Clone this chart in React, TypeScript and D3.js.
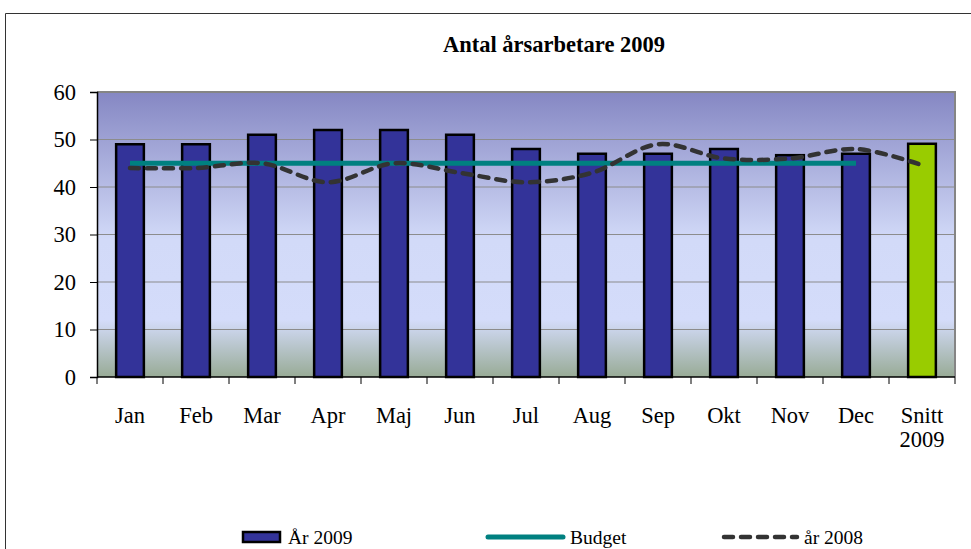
import { useRef, useEffect } from "react";
import * as d3 from "d3";

const categories = ["Jan", "Feb", "Mar", "Apr", "Maj", "Jun", "Jul", "Aug", "Sep", "Okt", "Nov", "Dec", "Snitt 2009"];
const values2009 = [49, 49, 51, 52, 52, 51, 48, 47, 47, 48, 46.7, 47, 49.1];
const budget = [45, 45, 45, 45, 45, 45, 45, 45, 45, 45, 45, 45];
const values2008 = [44, 44, 45, 41, 45, 43, 41, 43, 49, 46, 46, 48, 44.6];
const yTicks = [0, 10, 20, 30, 40, 50, 60];

const App = () => {
  const svgRef = useRef<SVGSVGElement>(null);

  useEffect(() => {
    const svg = d3.select(svgRef.current);
    svg.selectAll("*").remove();
    const font = "'Liberation Serif', 'Times New Roman', serif";
    const margin = { top: 92, left: 97, right: 16, bottom: 172 };
    const W = 971;
    const H = 549;
    const width = W - margin.left - margin.right;
    const height = H - margin.top - margin.bottom;

    // outer frame
    svg.append("path")
      .attr("d", `M5.5,${H} V13.5 H${W}`)
      .attr("fill", "none")
      .attr("stroke", "#333")
      .attr("stroke-width", 1);

    svg.append("text")
      .attr("x", 554)
      .attr("y", 52)
      .attr("text-anchor", "middle")
      .attr("font-family", font)
      .attr("font-weight", "bold")
      .attr("font-size", 22.5)
      .text("Antal årsarbetare 2009");

    const defs = svg.append("defs");
    const grad = defs.append("linearGradient")
      .attr("id", "bg")
      .attr("x1", 0).attr("y1", 0).attr("x2", 0).attr("y2", 1);
    grad.append("stop").attr("offset", "0%").attr("stop-color", "#8587c3");
    grad.append("stop").attr("offset", "52%").attr("stop-color", "#d2daf8");
    grad.append("stop").attr("offset", "80%").attr("stop-color", "#d4dcfa");
    grad.append("stop").attr("offset", "100%").attr("stop-color", "#98ab96");

    const g = svg.append("g").attr("transform", `translate(${margin.left},${margin.top})`);

    const x = d3.scaleBand().domain(categories).range([0, width]).paddingInner(0.58).paddingOuter(0.29);
    const xc = d3.scaleBand().domain(categories).range([0, width]);
    const y = d3.scaleLinear().domain([0, 60]).range([height, 0]);

    g.append("rect")
      .attr("width", width)
      .attr("height", height)
      .attr("fill", "url(#bg)");

    g.selectAll(".grid")
      .data(yTicks.filter((t) => t > 0 && t < 60))
      .enter()
      .append("line")
      .attr("x1", 0)
      .attr("x2", width)
      .attr("y1", (d) => y(d))
      .attr("y2", (d) => y(d))
      .attr("stroke", "#8c8c8c")
      .attr("stroke-width", 1.2);

    // plot border (top, right)
    g.append("path")
      .attr("d", `M0,0 H${width} V${height}`)
      .attr("fill", "none")
      .attr("stroke", "#858585")
      .attr("stroke-width", 2);

    g.selectAll(".bar")
      .data(categories)
      .enter()
      .append("rect")
      .attr("x", (d) => x(d)!)
      .attr("y", (d, i) => y(values2009[i]))
      .attr("width", x.bandwidth())
      .attr("height", (d, i) => height - y(values2009[i]))
      .attr("fill", (d, i) => (i === categories.length - 1 ? "#99cc00" : "#333399"))
      .attr("stroke", "#000")
      .attr("stroke-width", 2.5);

    const center = (i: number) => xc(categories[i])! + xc.bandwidth() / 2;

    const budgetLine = d3.line<number>()
      .x((d, i) => center(i))
      .y((d) => y(d));
    g.append("path")
      .attr("d", budgetLine(budget))
      .attr("fill", "none")
      .attr("stroke", "#008080")
      .attr("stroke-width", 5);

    const line2008 = d3.line<number>()
      .x((d, i) => center(i))
      .y((d) => y(d))
      .curve(d3.curveCatmullRom.alpha(0.5));
    g.append("path")
      .attr("d", line2008(values2008))
      .attr("fill", "none")
      .attr("stroke", "#333333")
      .attr("stroke-width", 4.5)
      .attr("stroke-linecap", "round")
      .attr("stroke-dasharray", "9,8");

    // axes
    const yAxis = g.append("g").call(d3.axisLeft(y).tickValues(yTicks).tickSize(7).tickPadding(14));
    yAxis.select(".domain").attr("stroke", "#000").attr("stroke-width", 1.5);
    yAxis.selectAll("line").attr("stroke", "#000");
    yAxis.selectAll("text")
      .attr("font-family", font)
      .attr("font-size", 22.5)
      .attr("fill", "#000");

    const xAxis = g.append("g").attr("transform", `translate(0,${height})`);
    xAxis.append("line")
      .attr("x1", 0).attr("x2", width)
      .attr("stroke", "#000").attr("stroke-width", 1.5);
    xAxis.selectAll(".tick")
      .data(d3.range(categories.length + 1))
      .enter()
      .append("line")
      .attr("x1", (d) => d * xc.step())
      .attr("x2", (d) => d * xc.step())
      .attr("y1", 0)
      .attr("y2", 7)
      .attr("stroke", "#000");
    const labels = xAxis.selectAll(".lab")
      .data(categories)
      .enter()
      .append("text")
      .attr("x", (d, i) => center(i))
      .attr("y", 46)
      .attr("text-anchor", "middle")
      .attr("font-family", font)
      .attr("font-size", 22.5)
      .attr("fill", "#000");
    labels.each(function (d) {
      const parts = d.split(" ");
      const t = d3.select(this);
      parts.forEach((p, k) => {
        t.append("tspan")
          .attr("x", t.attr("x"))
          .attr("dy", k === 0 ? 0 : 24)
          .text(p);
      });
    });

    // legend
    const ly = 537;
    const leg = svg.append("g").attr("font-family", font).attr("font-size", 19.5);
    leg.append("rect")
      .attr("x", 243).attr("y", ly - 5).attr("width", 37).attr("height", 10)
      .attr("fill", "#333399").attr("stroke", "#000").attr("stroke-width", 2.5);
    leg.append("text").attr("x", 288).attr("y", ly + 7).text("År 2009");
    leg.append("line")
      .attr("x1", 488).attr("x2", 563).attr("y1", ly).attr("y2", ly)
      .attr("stroke", "#008080").attr("stroke-width", 5).attr("stroke-linecap", "round");
    leg.append("text").attr("x", 570).attr("y", ly + 7).text("Budget");
    leg.append("line")
      .attr("x1", 724).attr("x2", 797).attr("y1", ly).attr("y2", ly)
      .attr("stroke", "#333").attr("stroke-width", 4.5).attr("stroke-linecap", "round")
      .attr("stroke-dasharray", "9,8");
    leg.append("text").attr("x", 804).attr("y", ly + 7).text("år 2008");
  }, []);

  return <svg ref={svgRef} width={971} height={549} style={{ display: "block", position: "absolute", left: 0, top: 0, background: "#fff" }} />;
};

export default App;
